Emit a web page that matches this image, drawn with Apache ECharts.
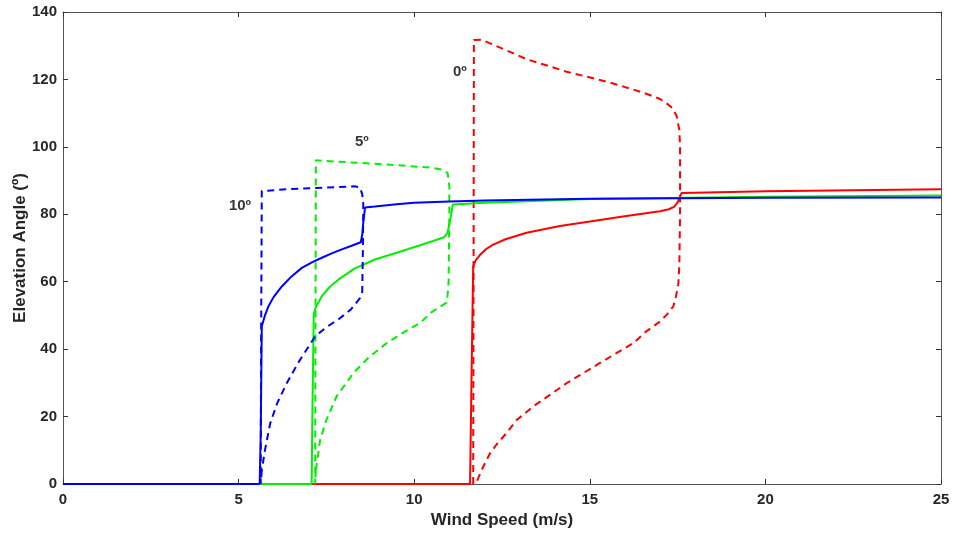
<!DOCTYPE html>
<html>
<head>
<meta charset="utf-8">
<script src="https://cdn.jsdelivr.net/npm/echarts@6/dist/echarts.min.js"></script>
<style>
html,body{margin:0;padding:0;background:#fff;}
#chart{width:953px;height:535px;}
</style>
</head>
<body>
<div id="chart"></div>
<script>
// ---- data ----
const xTicks = [0, 5, 10, 15, 20, 25];
const yTicks = [0, 20, 40, 60, 80, 100, 120, 140];

// 10º (blue)
const blueSolid = [[0,0],[5.6,0],[5.63,15],[5.66,46.8],[5.75,50],[5.85,52.7],[6.0,55.5],[6.23,58.6],[6.5,61.5],[6.8,64.1],[7.1,65.8],[7.37,67.1],[7.65,68.4],[7.94,69.6],[8.2,70.6],[8.48,71.7],[8.52,74],[8.55,77.5],[8.6,82],[8.88,82.3],[9.5,83.0],[10,83.4],[11,83.8],[12,84.1],[15,84.6],[20,84.9],[25,85.0]];
const blueDashed = [[5.66,4],[5.63,0],[5.64,40],[5.66,86.9],[6.5,87.5],[7.5,87.9],[8.3,88.3],[8.45,88.0],[8.52,86],[8.55,83],[8.54,70],[8.52,57],[8.46,55.2],[8.2,51.8],[7.84,48.8],[7.5,46.5],[7.18,43.8],[6.7,36],[6.37,29.9],[6.1,24],[5.9,18],[5.75,10],[5.66,4]];

// 5º (green)
const greenSolid = [[0,0],[7.08,0],[7.1,20],[7.14,50.5],[7.2,52.5],[7.37,55.7],[7.6,58.5],[7.84,60.6],[8.3,63.9],[8.88,66.6],[9.5,68.6],[10.17,70.8],[10.6,72.3],[10.85,73.2],[10.95,74.5],[11.02,78],[11.1,82.9],[12,83.4],[15,84.5],[20,85.2],[25,85.6]];
const greenDashed = [[7.2,4],[7.18,0],[7.19,50],[7.2,96.0],[8.5,95.2],[9.5,94.6],[10.5,93.8],[10.8,93.2],[10.95,92.3],[11.0,88.4],[11.0,80],[10.98,60],[10.95,56],[10.92,53.8],[10.5,51],[10.17,47.8],[9.7,45],[9.22,41.8],[8.7,37.5],[8.27,32.9],[7.79,26],[7.5,19],[7.32,13],[7.2,4]];

// 0º (red)
const redSolid = [[0,0],[11.59,0],[11.63,30],[11.68,64.6],[11.75,66.3],[11.87,67.9],[12.05,69.7],[12.25,71],[12.6,72.6],[13.2,74.5],[14.15,76.5],[15.1,78],[16.04,79.5],[17.0,80.9],[17.25,81.5],[17.4,82.2],[17.5,83.5],[17.56,85],[17.61,86.3],[18,86.4],[20,86.8],[25,87.4]];
const redDashed = [[11.68,0],[11.69,60],[11.7,131.7],[11.92,131.8],[13.2,126],[14.34,122.3],[15.57,119.1],[16.52,116.1],[17.0,114.2],[17.19,112.9],[17.35,111.5],[17.47,109.2],[17.55,105],[17.57,100],[17.57,80],[17.55,65],[17.52,59.2],[17.45,55.5],[17.38,52.7],[17.2,50.3],[17.0,48.2],[16.6,45.2],[16.24,41.8],[15.29,35.9],[14.34,29.9],[13.39,23],[12.9,18.8],[12.63,15.1],[12.35,11.8],[12.16,9.1],[11.95,4.8],[11.78,0.7],[11.75,0]];

const labelPoints = [[5.04,82.6,'10º'],[8.51,101.4,'5º'],[11.3,122.2,'0º']];

const BLUE = '#0000ff', GREEN = '#00f000', RED = '#ff0000';
const FONT = '"Liberation Sans", Arial, sans-serif';
const TXT = '#262626';
const LINE = '#555555';

const chart = echarts.init(document.getElementById('chart'), null, {renderer: 'canvas'});

function lineSeries(data, color, dashed) {
  return {
    type: 'line', data: data, xAxisIndex: 0, yAxisIndex: 0,
    showSymbol: false, symbol: 'none', smooth: false, silent: true,
    lineStyle: {color: color, width: 2, type: dashed ? [7, 5] : 'solid'},
    z: 3
  };
}

const tickCfg = {show: true, inside: true, length: 5, lineStyle: {color: '#333', width: 1}};

chart.setOption({
  animation: false,
  backgroundColor: '#fff',
  grid: {left: 63, right: 12, top: 12, bottom: 51, show: false, containLabel: false, outerBoundsMode: 'none'},
  xAxis: [
    {type: 'value', min: 0, max: 25, interval: 5, position: 'bottom',
     axisLine: {show: true, onZero: false, lineStyle: {color: LINE, width: 1}},
     axisTick: tickCfg, splitLine: {show: false},
     axisLabel: {color: TXT, fontFamily: FONT, fontWeight: 'bold', fontSize: 15, margin: 8,
       formatter: v => xTicks.includes(v) ? String(v) : ''},
     name: 'Wind Speed (m/s)', nameLocation: 'middle', nameGap: 28, nameMoveOverlap: false,
     nameTextStyle: {color: TXT, fontFamily: FONT, fontWeight: 'bold', fontSize: 17}},
    {type: 'value', min: 0, max: 25, interval: 5, position: 'top',
     axisLine: {show: true, onZero: false, lineStyle: {color: LINE, width: 1}},
     axisTick: tickCfg, axisLabel: {show: false}, splitLine: {show: false}}
  ],
  yAxis: [
    {type: 'value', min: 0, max: 140, interval: 20, position: 'left',
     axisLine: {show: true, onZero: false, lineStyle: {color: LINE, width: 1}},
     axisTick: tickCfg, splitLine: {show: false},
     axisLabel: {color: TXT, fontFamily: FONT, fontWeight: 'bold', fontSize: 15, margin: 6,
       formatter: v => yTicks.includes(v) ? String(v) : ''},
     name: 'Elevation Angle (º)', nameLocation: 'middle', nameGap: 34, nameRotate: 90, nameMoveOverlap: false,
     nameTextStyle: {color: TXT, fontFamily: FONT, fontWeight: 'bold', fontSize: 17}},
    {type: 'value', min: 0, max: 140, interval: 20, position: 'right',
     axisLine: {show: true, onZero: false, lineStyle: {color: LINE, width: 1}},
     axisTick: tickCfg, axisLabel: {show: false}, splitLine: {show: false}}
  ],
  series: [
    lineSeries(redDashed, RED, true),
    lineSeries(redSolid, RED, false),
    lineSeries(greenDashed, GREEN, true),
    lineSeries(greenSolid, GREEN, false),
    lineSeries(blueDashed, BLUE, true),
    lineSeries(blueSolid, BLUE, false),
    {type: 'scatter', xAxisIndex: 0, yAxisIndex: 0, symbolSize: 0, silent: true, z: 5,
     data: labelPoints.map(p => ({value: [p[0], p[1]], name: p[2]})),
     label: {show: true, position: 'inside', formatter: p => p.name,
       color: '#000', fontFamily: FONT, fontWeight: 'bold', fontSize: 15}}
  ]
});
</script>
</body>
</html>
